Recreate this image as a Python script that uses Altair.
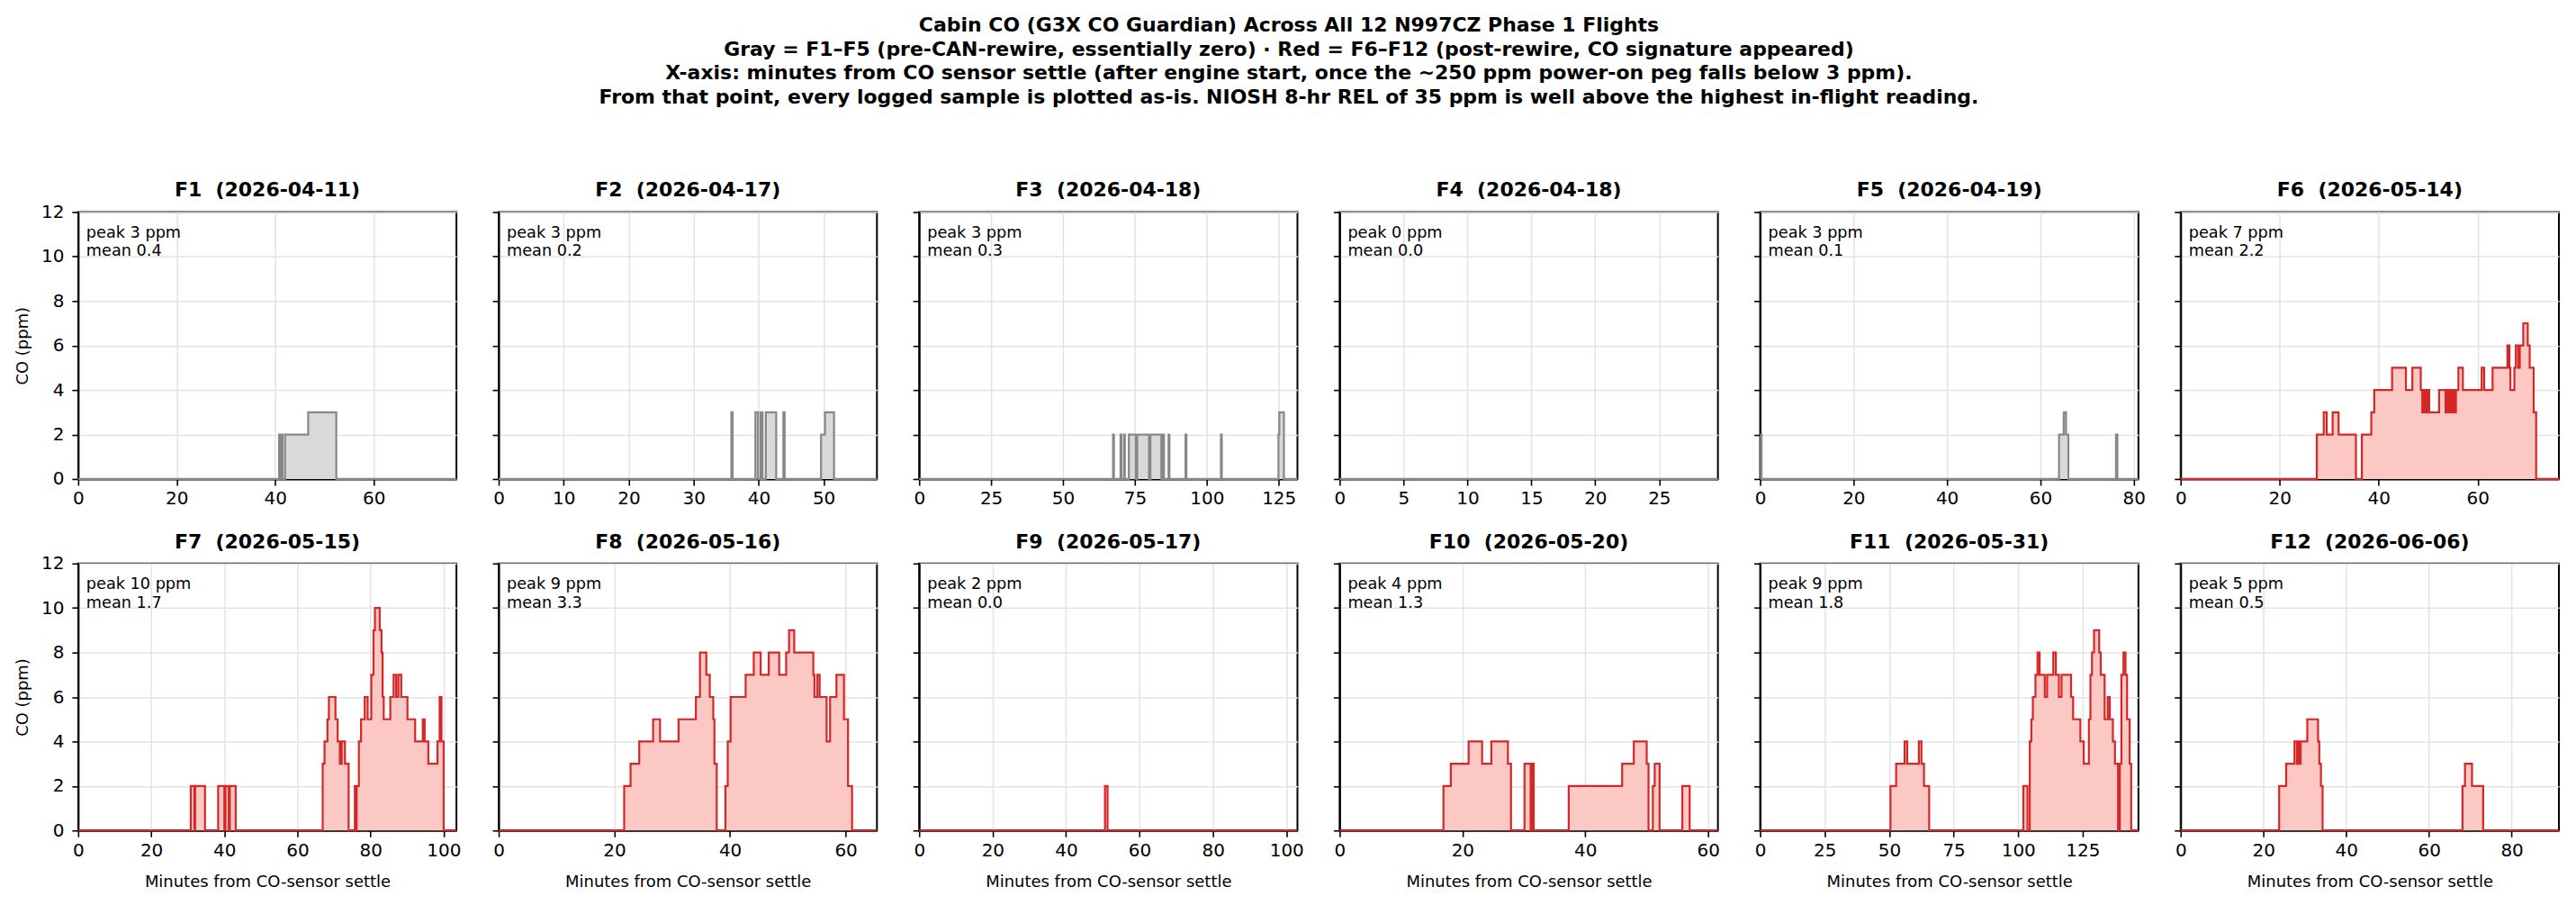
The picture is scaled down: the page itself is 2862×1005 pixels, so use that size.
import altair as alt
import pandas as pd

FONT = "DejaVu Sans"

flights = ["F1", "F2", "F3", "F4", "F5", "F6", "F7", "F8", "F9", "F10", "F11", "F12"]
dates = ["2026-04-11", "2026-04-17", "2026-04-18", "2026-04-18", "2026-04-19", "2026-05-14",
         "2026-05-15", "2026-05-16", "2026-05-17", "2026-05-20", "2026-05-31", "2026-06-06"]
peaks = [3, 3, 3, 0, 3, 7, 10, 9, 2, 4, 9, 5]
means = [0.4, 0.2, 0.3, 0.0, 0.1, 2.2, 1.7, 3.3, 0.0, 1.3, 1.8, 0.5]
x_max = [76.8, 58.2, 131.5, 29.6, 81.0, 76.4, 103.5, 65.4, 103.0, 61.6, 146.6, 91.4]
x_ticks = [
    [0, 20, 40, 60], [0, 10, 20, 30, 40, 50], [0, 25, 50, 75, 100, 125], [0, 5, 10, 15, 20, 25],
    [0, 20, 40, 60, 80], [0, 20, 40, 60], [0, 20, 40, 60, 80, 100], [0, 20, 40, 60],
    [0, 20, 40, 60, 80, 100], [0, 20, 40, 60], [0, 25, 50, 75, 100, 125], [0, 20, 40, 60, 80],
]

# minutes from settle (step change points) and CO ppm
t1 = [0, 40.8, 41.0, 41.3, 41.5, 42.0, 46.7, 52.4, 76.8]
v1 = [0, 2, 0, 2, 0, 2, 3, 0, 0]
t2 = [0, 35.8, 36.0, 39.5, 39.9, 40.3, 40.6, 41.1, 42.7, 43.8, 44.0, 49.6, 50.2, 51.6, 58.2]
v2 = [0, 3, 0, 3, 0, 3, 0, 3, 0, 3, 0, 2, 3, 0, 0]
t3 = [0, 67.4, 67.7, 70.0, 70.3, 71.2, 71.5, 72.9, 75.3, 75.8, 79.9, 80.4, 84.2, 84.6, 85.1,
      86.7, 87.0, 92.6, 92.9, 104.9, 105.2, 124.9, 125.2, 126.8, 131.5]
v3 = [0, 2, 0, 2, 0, 2, 0, 2, 0, 2, 0, 2, 0, 2, 0, 2, 0, 2, 0, 2, 0, 2, 3, 0, 0]
t4 = [0, 29.6]
v4 = [0, 0]
t5 = [0, 0.3, 64.0, 65.0, 65.5, 66.0, 76.2, 76.5, 81.0]
v5 = [2, 0, 2, 3, 2, 0, 2, 0, 0]
t6 = [0, 27.5, 28.9, 29.5, 30.7, 31.9, 35.4, 36.6, 38.5, 39.1, 42.7, 45.5, 46.8, 48.5, 48.8,
      49.2, 49.5, 49.9, 50.2, 52.2, 53.5, 53.8, 54.1, 54.4, 54.7, 55.0, 55.3, 55.6, 56.1, 57.0,
      60.8, 61.3, 63.0, 66.0, 66.4, 66.6, 67.4, 67.7, 68.2, 68.5, 69.2, 70.1, 70.5, 71.3, 71.8, 76.4]
v6 = [0, 2, 3, 2, 3, 2, 0, 2, 3, 4, 5, 4, 5, 4, 3, 4, 3, 4, 3, 4, 3, 4, 3, 4, 3, 4, 3, 4, 5, 4,
      5, 4, 5, 6, 5, 4, 5, 6, 5, 6, 7, 6, 5, 3, 0, 0]
t7 = [0, 30.8, 31.8, 32.0, 34.7, 38.3, 40.0, 40.3, 41.2, 41.5, 43.1, 66.9, 67.4, 68.2, 68.6,
      70.4, 71.0, 71.6, 72.1, 73.0, 74.0, 75.7, 76.0, 76.2, 76.8, 77.4, 78.4, 79.2, 80.2, 80.8,
      81.2, 82.5, 83.0, 83.3, 83.6, 85.4, 86.3, 87.0, 87.6, 88.4, 90.1, 92.2, 94.3, 94.8, 95.8,
      98.3, 98.9, 99.4, 100.0, 103.5]
v7 = [0, 2, 0, 2, 0, 2, 0, 2, 0, 2, 0, 3, 4, 5, 6, 5, 4, 3, 4, 3, 0, 2, 0, 2, 4, 5, 6, 5, 7, 9,
      10, 9, 8, 6, 5, 6, 7, 6, 7, 6, 5, 4, 5, 4, 3, 4, 6, 4, 0, 0]
t8 = [0, 21.7, 22.8, 24.3, 26.7, 27.9, 31.1, 34.1, 34.8, 35.9, 36.5, 37.1, 37.3, 37.7, 39.2,
      39.6, 40.1, 42.7, 44.1, 45.3, 46.7, 48.5, 49.7, 50.2, 51.1, 54.4, 54.6, 55.1, 55.5, 56.7,
      57.3, 58.4, 59.7, 60.4, 61.1, 65.4]
v8 = [0, 2, 3, 4, 5, 4, 5, 6, 8, 7, 6, 5, 3, 0, 2, 4, 6, 7, 8, 7, 8, 7, 8, 9, 8, 7, 6, 7, 6, 4,
      6, 7, 5, 2, 0, 0]
t9 = [0, 50.6, 51.3, 103.0]
v9 = [0, 2, 0, 0]
t10 = [0, 16.9, 18.1, 21.0, 23.2, 24.7, 27.4, 27.9, 30.1, 31.1, 31.3, 31.6, 37.3, 46.0, 47.9,
       50.0, 50.3, 51.0, 51.3, 52.1, 55.8, 57.0, 61.6]
v10 = [0, 2, 3, 4, 3, 4, 3, 0, 3, 0, 3, 0, 2, 3, 4, 3, 0, 2, 3, 0, 2, 0, 0]
t11 = [0, 50.5, 52.7, 56.0, 57.0, 61.5, 62.5, 63.5, 65.5, 102.0, 103.6, 104.5, 105.1, 105.7,
       106.7, 107.5, 108.3, 110.3, 111.2, 113.6, 114.6, 115.8, 116.8, 120.5, 121.3, 124.1,
       125.4, 127.4, 128.0, 128.6, 129.4, 131.4, 132.0, 133.5, 134.7, 135.5, 136.7, 137.5,
       138.7, 139.4, 140.0, 140.8, 141.6, 142.2, 143.2, 143.8, 146.6]
v11 = [0, 2, 3, 4, 3, 4, 3, 2, 0, 2, 0, 4, 5, 6, 7, 8, 7, 6, 7, 8, 7, 6, 7, 6, 5, 4, 3, 5, 7, 8,
       9, 8, 7, 5, 6, 5, 4, 3, 0, 3, 7, 8, 7, 5, 3, 0, 0]
t12 = [0, 23.8, 25.5, 27.5, 28.1, 28.4, 28.7, 29.0, 30.6, 33.2, 33.5, 33.9, 34.3, 68.1, 68.7,
       70.4, 73.1, 91.4]
v12 = [0, 2, 3, 4, 3, 4, 3, 4, 5, 4, 3, 2, 0, 2, 3, 2, 0, 0]

T = [t1, t2, t3, t4, t5, t6, t7, t8, t9, t10, t11, t12]
V = [v1, v2, v3, v4, v5, v6, v7, v8, v9, v10, v11, v12]

title_lines = [
    "Cabin CO (G3X CO Guardian) Across All 12 N997CZ Phase 1 Flights",
    "Gray = F1\u2013F5 (pre-CAN-rewire, essentially zero) \u00b7 Red = F6\u2013F12 (post-rewire, CO signature appeared)",
    "X-axis: minutes from CO sensor settle (after engine start, once the ~250 ppm power-on peg falls below 3 ppm).",
    "From that point, every logged sample is plotted as-is. NIOSH 8-hr REL of 35 ppm is well above the highest in-flight reading.",
]

GRAY_LINE = "#878787"
GRAY_FILL = "#d9d9d9"
RED_LINE = "#d62728"
RED_FILL = "#fcc8c3"

W, H = 421, 297
Y_TICKS = [0, 2, 4, 6, 8, 10, 12]


def panel(i):
    df = pd.DataFrame({"t": T[i], "v": V[i]})
    pre = i < 5
    lc = GRAY_LINE if pre else RED_LINE
    fc = GRAY_FILL if pre else RED_FILL
    left = i % 6 == 0
    bottom = i >= 6
    x = alt.X("t:Q", scale=alt.Scale(domain=[0, x_max[i]], nice=False, zero=False),
              axis=alt.Axis(values=x_ticks[i], format="d",
                            title="Minutes from CO-sensor settle" if bottom else None))
    if left:
        yax = alt.Axis(values=Y_TICKS, title="CO (ppm)", format="d")
    else:
        yax = alt.Axis(values=Y_TICKS, title=None, format="d", labelOpacity=0)
    y = alt.Y("v:Q", scale=alt.Scale(domain=[0, 12], nice=False), axis=yax)
    base = alt.Chart(df)
    area = base.mark_area(interpolate="step-after", color=fc, opacity=1).encode(x=x, y=y)
    line = base.mark_line(interpolate="step-after", color=lc, strokeWidth=2.2).encode(x=x, y=y)
    lab = pd.DataFrame({"label": [f"peak {peaks[i]} ppm\nmean {means[i]:.1f}"]})
    text = alt.Chart(lab).mark_text(
        align="left", baseline="middle", lineBreak="\n", x=9, y=23.5, fontSize=17.7,
        lineHeight=20.5, font=FONT, color="black"
    ).encode(text="label:N")
    return alt.layer(area, line, text).properties(
        width=W, height=H,
        title=alt.TitleParams(
            text=f"{flights[i]} \u00a0({dates[i]})", fontSize=22, fontWeight="bold", font=FONT,
            color="black", anchor="middle", baseline="alphabetic", offset=-15,
        ),
    )


panels = [panel(i) for i in range(12)]

chart = alt.concat(
    *panels, columns=6, spacing={"row": 94, "column": 47}, bounds="flush"
).properties(
    title=alt.TitleParams(
        text=title_lines, fontSize=22, fontWeight="bold", font=FONT, color="black",
        anchor="middle", lineHeight=26.5, offset=80,
    ),
    padding={"left": 7, "top": 8, "right": 5, "bottom": 5},
    background="white",
).configure_view(
    stroke="black", strokeWidth=2
).configure_axis(
    domainColor="black", domainWidth=2, tickColor="black", tickWidth=1.6, tickSize=7,
    labelFont=FONT, labelFontSize=20, labelColor="black", labelFlush=False,
    titleFont=FONT, titleFontSize=18, titleFontWeight="normal", titleColor="black",
    gridColor="#e3e3e3", gridWidth=1.5, zindex=1,
).configure_axisX(
    labelPadding=5, titlePadding=16,
).configure_axisY(
    labelPadding=9, titlePadding=11,
)

chart.save("out.html", embed_options={"renderer": "svg", "actions": False})
